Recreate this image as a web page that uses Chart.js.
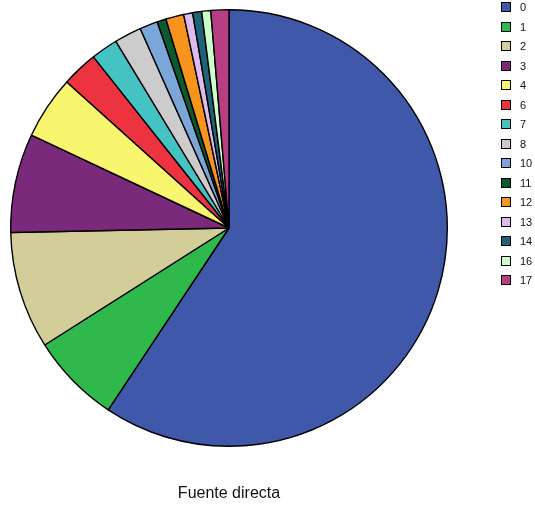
<!DOCTYPE html>
<html>
<head>
<meta charset="utf-8">
<script src="https://cdn.jsdelivr.net/npm/chart.js@4/dist/chart.umd.min.js"></script>
<style>
  html, body { margin: 0; padding: 0; background: #fff; }
  #wrap { position: relative; width: 535px; height: 506px; font-family: "Liberation Sans", Arial, sans-serif; }
  #pie { position: absolute; left: 0; top: 0; }
  #legend { position: absolute; left: 501px; top: 2px; }
  .item { height: 19.5px; display: flex; align-items: flex-start; }
  .box { width: 8px; height: 8px; border: 1.3px solid #000; }
  .lbl { font-size: 11px; color: #111; margin-left: 9px; line-height: 11px; margin-top: 0px; }
  #caption { position: absolute; left: 129px; width: 200px; top: 484px; text-align: center; font-size: 16px; color: #111; }
</style>
</head>
<body>
<div id="wrap">
  <canvas id="pie" width="535" height="506"></canvas>
  <div id="legend"></div>
  <div id="caption">Fuente directa</div>
</div>
<script>
// Categories and their counts
const categories = ['0', '1', '2', '3', '4', '6', '7', '8', '10', '11', '12', '13', '14', '16', '17'];
const counts = [89, 10, 13, 11, 7, 4, 3, 3, 2, 1, 2, 1, 1, 1, 2];
const sliceColors = ['#3F58AA', '#2FB84B', '#D3CD9A', '#7B2A7B', '#FAF56E', '#EE3340', '#45C3C3',
                     '#CCCCCC', '#7BA7D8', '#0C5A2D', '#F7941D', '#DDBBEE', '#1E6378', '#CCFFCC', '#B53F82'];

new Chart(document.getElementById('pie'), {
  type: 'pie',
  data: {
    labels: categories,
    datasets: [{
      data: counts,
      backgroundColor: sliceColors,
      borderColor: '#000',
      borderWidth: 1.4,
      borderAlign: 'center'
    }]
  },
  options: {
    responsive: false,
    animation: false,
    layout: { padding: { left: 10, right: 87, top: 9, bottom: 59 } },
    plugins: {
      legend: { display: false },
      tooltip: { enabled: false }
    }
  }
});

// Legend listing each category with its swatch
const legend = document.getElementById('legend');
categories.forEach((c, i) => {
  const row = document.createElement('div');
  row.className = 'item';
  const box = document.createElement('div');
  box.className = 'box';
  box.style.background = sliceColors[i];
  const lbl = document.createElement('span');
  lbl.className = 'lbl';
  lbl.textContent = c;
  row.appendChild(box);
  row.appendChild(lbl);
  legend.appendChild(row);
});
</script>
</body>
</html>
